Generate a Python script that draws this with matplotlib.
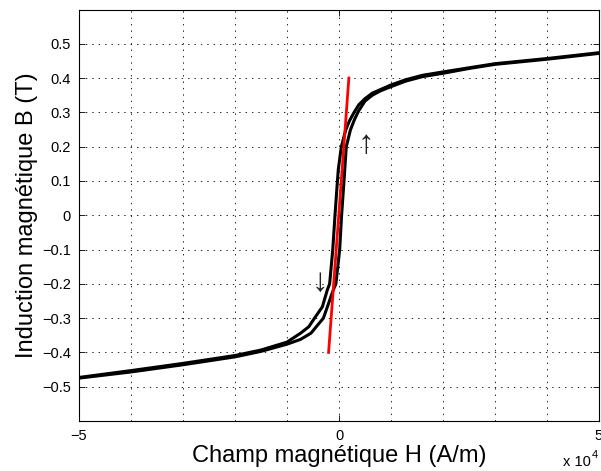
import matplotlib
matplotlib.use('Agg')
import matplotlib.pyplot as plt
from matplotlib.ticker import FixedLocator, FixedFormatter, MultipleLocator

plt.rcParams['font.family'] = ['Liberation Sans', 'DejaVu Sans']
plt.rcParams['lines.scale_dashes'] = False

# Descending branch (from +H saturation to -H), H in A/m, B in T
H_desc = [50000, 40000, 30000, 25000, 20000, 16000, 12800, 10000, 6400, 5000,
          3800, 2900, 2000, 1300, 450, -130, -300, -770, -1200, -1800,
          -2250, -3200, -4700, -5800, -7400, -10000, -15000, -20000,
          -30000, -40000, -50000]
B_desc = [0.474, 0.457, 0.442, 0.430, 0.418, 0.408, 0.395, 0.380, 0.356, 0.340,
          0.322, 0.300, 0.275, 0.249, 0.200, 0.134, 0.100, 0.000, -0.100, -0.200,
          -0.218, -0.267, -0.300, -0.325, -0.344, -0.370, -0.393, -0.409,
          -0.432, -0.453, -0.473]

# Ascending branch (from -H saturation to +H)
H_asc = [-50000, -40000, -30000, -20000, -15000, -10000, -7400, -5400,
         -3000, -1100, -600, 130, 500, 960, 1400, 2200, 3000,
         3800, 5000, 6400, 8000, 10000, 12800, 16000, 20000, 25000, 30000,
         40000, 50000]
B_asc = [-0.475, -0.457, -0.436, -0.413, -0.397, -0.376, -0.362, -0.344,
         -0.300, -0.218, -0.200, -0.100, 0.000, 0.100, 0.200, 0.249, 0.280,
         0.305, 0.333, 0.350, 0.363, 0.375, 0.391, 0.404, 0.414, 0.428, 0.440,
         0.455, 0.472]

# Red tangent line
H_red = [-2000, 1900]
B_red = [-0.40, 0.40]

x_major = [-50000, 0, 50000]
x_major_labels = ['\u22125', '0', '5']
y_ticks = [-0.5, -0.4, -0.3, -0.2, -0.1, 0.0, 0.1, 0.2, 0.3, 0.4, 0.5]
y_labels = ['\u22120.5', '\u22120.4', '\u22120.3', '\u22120.2', '\u22120.1', '0',
            '0.1', '0.2', '0.3', '0.4', '0.5']

fig = plt.figure(figsize=(6.01, 4.71), dpi=100)
ax = fig.add_axes([79/601, 1 - 421/471, 520/601, 411.5/471])

ax.plot(H_desc, B_desc, color='black', lw=2.2, solid_joinstyle='round', solid_capstyle='round')
ax.plot(H_asc, B_asc, color='black', lw=2.2, solid_joinstyle='round', solid_capstyle='round')
ax.plot(H_red, B_red, color='red', lw=2.0)

ax.text(5200, 0.205, '\u2191', fontsize=24, ha='center', va='center', color='#222222',
        family=['Liberation Sans', 'DejaVu Sans'])
ax.text(-3700, -0.195, '\u2193', fontsize=24, ha='center', va='center', color='#222222',
        family=['Liberation Sans', 'DejaVu Sans'])

ax.set_xlim(-50000, 50000)
ax.set_ylim(-0.6, 0.6)

ax.xaxis.set_major_locator(FixedLocator(x_major))
ax.xaxis.set_major_formatter(FixedFormatter(x_major_labels))
ax.xaxis.set_minor_locator(MultipleLocator(10000))
ax.yaxis.set_major_locator(FixedLocator(y_ticks))
ax.yaxis.set_major_formatter(FixedFormatter(y_labels))

ax.tick_params(which='major', direction='in', length=4, width=0.6, top=True, right=True,
               labelsize=10.5, pad=6)
ax.tick_params(which='minor', length=0)

grid_kw = dict(color='black', linestyle=(0, (1.0, 3.6)), linewidth=0.6)
ax.grid(True, which='major', axis='both', **grid_kw)
ax.grid(True, which='minor', axis='x', **grid_kw)

for sp in ax.spines.values():
    sp.set_linewidth(0.8)

ax.set_xlabel('Champ magnétique H (A/m)', fontsize=17)
ax.set_ylabel('Induction magnétique B (T)', fontsize=17)
ax.xaxis.set_label_coords(0.5, -0.058)
ax.yaxis.set_label_coords(-0.079, 0.5)

fig.text(591/601, 1 - 466/471, 'x 10', fontsize=10.5, ha='right', va='baseline')
fig.text(592/601, 1 - 458/471, '4', fontsize=8, ha='left', va='baseline')

fig.savefig('out.png', dpi=100)
